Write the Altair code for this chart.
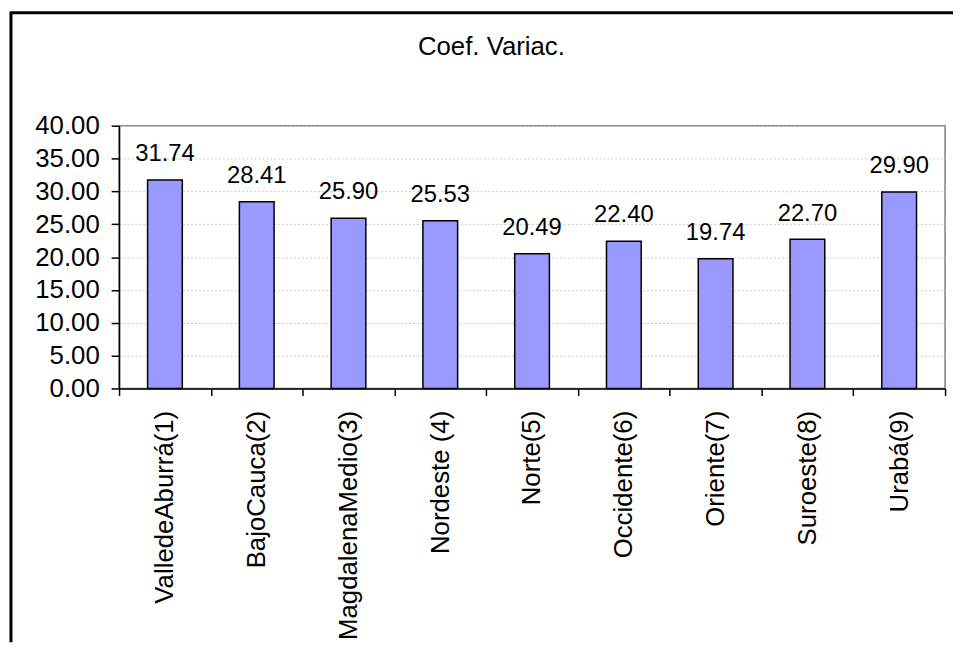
import altair as alt
import pandas as pd

categories = ["ValledeAburrá(1)", "BajoCauca(2)", "MagdalenaMedio(3)", "Nordeste (4)",
              "Norte(5)", "Occidente(6)", "Oriente(7)", "Suroeste(8)", "Urabá(9)"]
values = [31.74, 28.41, 25.90, 25.53, 20.49, 22.40, 19.74, 22.70, 29.90]
y_ticks = [0, 5, 10, 15, 20, 25, 30, 35, 40]

FONT = "Liberation Sans"
W, H = 833, 265

df = pd.DataFrame({"region": categories, "cv": values})

x_enc = alt.X(
    "region:N", sort=categories, title=None,
    scale=alt.Scale(paddingInner=0, paddingOuter=0),
    axis=alt.Axis(labelAngle=-90, labelAlign="right", labelBaseline="middle",
                  tickBand="extent", tickSize=7, labelPadding=15,
                  labelFontSize=26, labelLimit=500, grid=False),
)
y_enc = alt.Y(
    "cv:Q", title=None,
    scale=alt.Scale(domain=[0, 40], nice=False),
    axis=alt.Axis(values=y_ticks, format=".2f", tickSize=8, labelPadding=12,
                  labelFontSize=26, grid=True, gridColor="#c8c8c8",
                  gridDash=[2, 2], gridWidth=1),
)

bars = alt.Chart(df).mark_bar(
    size=35, color="#9999FF", stroke="black", strokeWidth=1.5
).encode(x=x_enc, y=y_enc)

texts = alt.Chart(df).mark_text(
    dy=-19, baseline="alphabetic", fontSize=24, font=FONT, color="black"
).encode(x=x_enc, y=y_enc, text=alt.Text("cv:Q", format=".2f"))

one = pd.DataFrame({"k": [0]})
border_left = alt.Chart(one).mark_rule(color="black", strokeWidth=3).encode(
    x=alt.value(-109), y=alt.value(-115), y2=alt.value(521))
border_top = alt.Chart(one).mark_rule(color="black", strokeWidth=3).encode(
    y=alt.value(-114), x=alt.value(-110), x2=alt.value(841))

chart = alt.layer(bars, texts, border_left, border_top).properties(
    width=W, height=H,
    title=alt.TitleParams("Coef. Variac.", fontSize=26, font=FONT, fontWeight="normal",
                          color="black", anchor="middle", dx=-41, offset=-71,
                          baseline="alphabetic"),
    autosize=alt.AutoSizeParams(type="none"),
    padding={"left": 112, "top": 116, "right": 8, "bottom": 256},
).configure_view(
    stroke="#808080", strokeWidth=1.5
).configure_axis(
    labelFont=FONT, labelColor="black", domainColor="black", tickColor="black",
    domainWidth=1.5, tickWidth=1.5,
)

chart.save("out.html", embed_options={"renderer": "svg", "actions": False})
